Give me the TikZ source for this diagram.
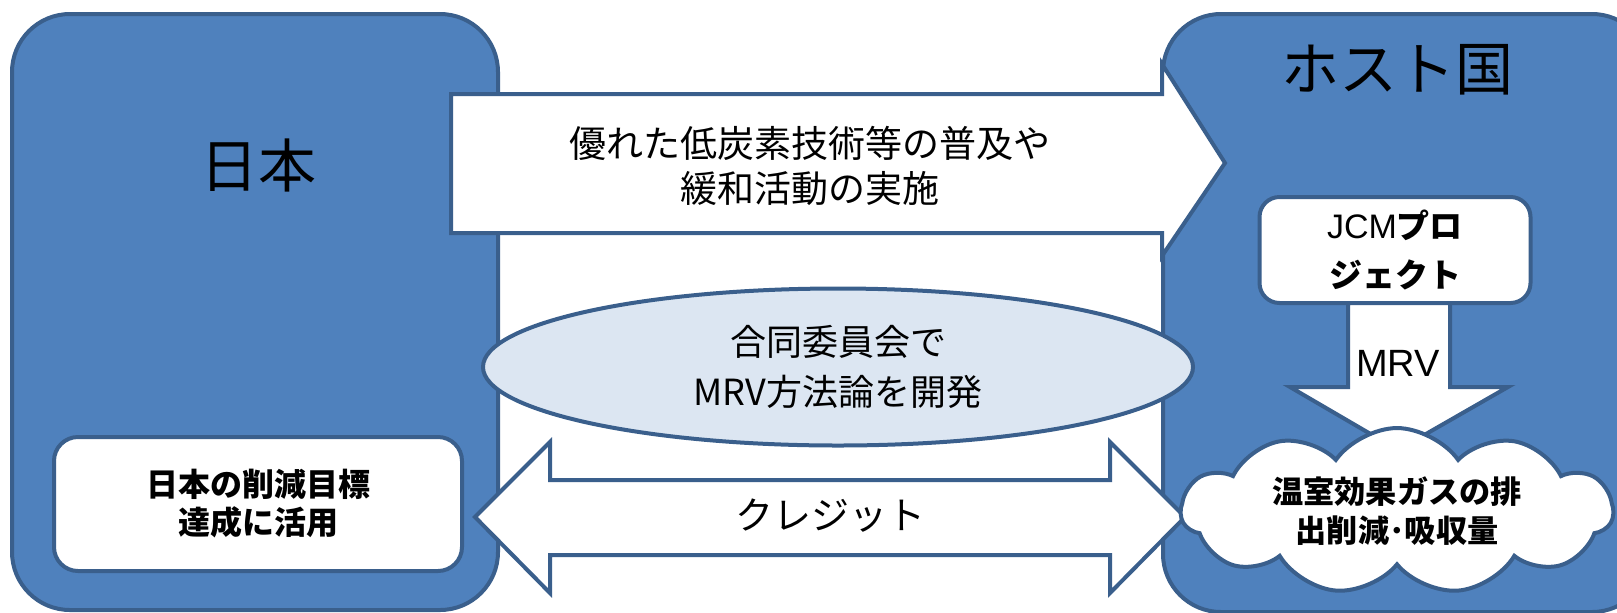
\documentclass[tikz,border=0pt]{standalone}
\usepackage{fontspec}
\setmainfont{Noto Sans CJK JP}
\newfontfamily\latin{Liberation Sans}
\usetikzlibrary{shapes.geometric,shapes.symbols}

\definecolor{boxblue}{HTML}{4F81BD}
\definecolor{edgeblue}{HTML}{3A5F8C}
\definecolor{paleblue}{HTML}{DCE6F2}

\tikzset{
  edge/.style={draw=edgeblue, line width=2pt, line join=miter},
  country/.style={edge, fill=boxblue, rounded corners=29pt},
  panel/.style={edge, fill=white, rounded corners=#1},
  blockarrow/.style={edge, fill=white},
  bigtext/.style={font=\fontsize{29}{34}\selectfont},
  arrowtext/.style={align=center, font=\fontsize{18.5}{22.5}\selectfont},
  boldtext/.style={align=center, font=\bfseries\fontsize{16}{19}\selectfont},
}

\begin{document}
\begin{tikzpicture}[x=0.5pt,y=-0.5pt]
\useasboundingbox (0,0) rectangle (1617,612);
\clip (0,0) rectangle (1617,612);

% the two countries
\draw[country] (12,14) rectangle (498,610);
\draw[country] (1163,14) rectangle (1650,612);
\node[bigtext] (japan) at (258,165) {日本};
\node[bigtext] (host) at (1397,70) {ホスト国};

% technology transfer
\draw[blockarrow] (451,94) -- (1162,94) -- (1162,64) -- (1225,163)
  -- (1162,256) -- (1162,233) -- (451,233) -- cycle;
\node[arrowtext] (tech) at (810,166) {優れた低炭素技術等の普及や\\緩和活動の実施};

% joint committee
\node[ellipse, edge, fill=paleblue, minimum width=355pt, minimum height=78.5pt,
  arrowtext, font=\fontsize{18}{25}\selectfont] (committee) at (838,367)
  {合同委員会で\\MRV方法論を開発};

% credits
\draw[blockarrow] (475,517) -- (550,442) -- (550,480) -- (1110,480) -- (1110,442)
  -- (1185,517) -- (1110,593) -- (1110,555) -- (550,555) -- (550,593) -- cycle;
\node[font=\fontsize{19}{23}\selectfont] (credit) at (830,516) {クレジット};

\node[panel=12pt, minimum width=204pt, minimum height=67pt, boldtext]
  (target) at (258,504) {日本の削減目標\\達成に活用};

% project in the host country
\node[panel=10pt, minimum width=135.5pt, minimum height=53pt, align=center,
  font=\fontsize{16.5}{24.5}\selectfont] (jcm) at (1395,250)
  {{\latin\fontsize{17}{24.5}\selectfont JCM}\textbf{プロ}\\\textbf{ジェクト}};
\draw[blockarrow] (1348,303) -- (1450,303) -- (1450,387) -- (1508,387)
  -- (1398,450) -- (1290,387) -- (1348,387) -- cycle;
\node[font=\latin\fontsize{19}{22}\selectfont] (mrv) at (1398,363) {MRV};

\node[cloud, cloud puffs=11, cloud puff arc=110, cloud ignores aspect, edge,
  fill=white, minimum width=216pt, minimum height=68pt, boldtext,
  font=\bfseries\fontsize{15.6}{19.5}\selectfont] (ghg) at (1397,511)
  {温室効果ガスの排\\出削減･吸収量};

\end{tikzpicture}
\end{document}
